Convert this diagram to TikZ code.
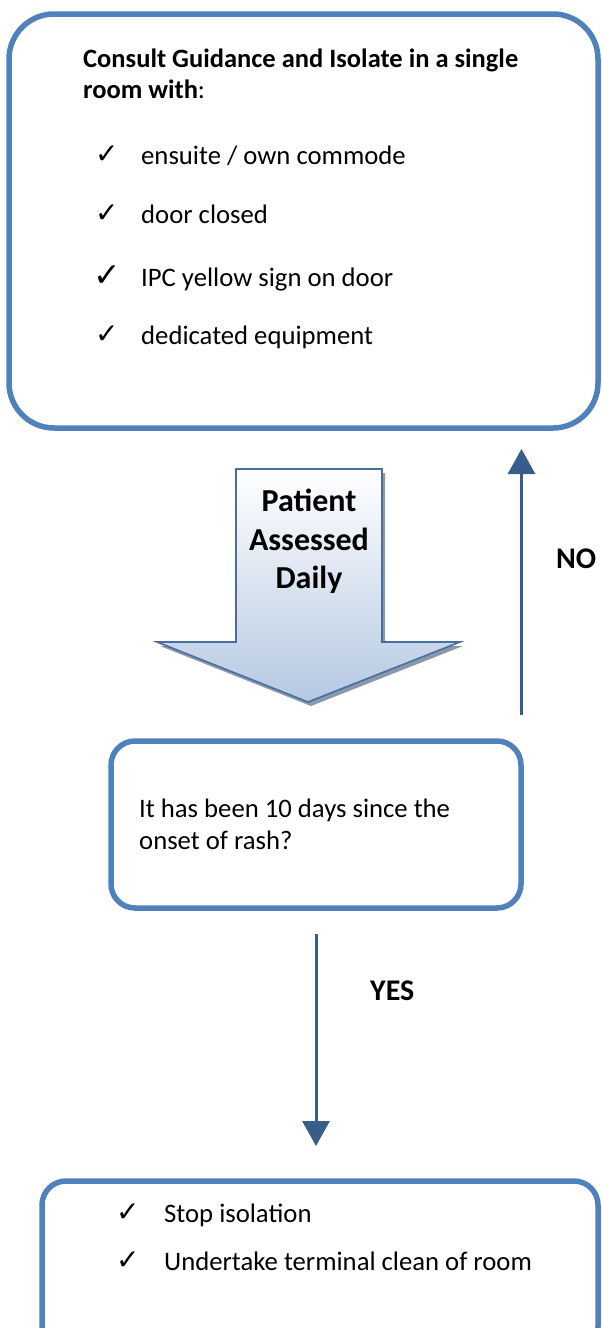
\documentclass[tikz,border=0pt]{standalone}
\usepackage{fontspec}
\setmainfont{Carlito}
\newfontfamily\dejavu{DejaVu Sans}
\usetikzlibrary{arrows.meta}
\definecolor{boxblue}{HTML}{4F81BD}
\definecolor{arrblue}{HTML}{385D8A}
\definecolor{padline}{HTML}{4A6D9C}
\definecolor{padfill}{HTML}{B5C9E3}
\definecolor{padshadow}{HTML}{8A98AE}
\tikzset{
  flowbox/.style={draw=boxblue, line width=5.5pt, rounded corners=#1, fill=white, inner sep=0pt},
  txt/.style={anchor=base west, inner sep=0pt, font=\fontsize{26.7}{31}\selectfont},
  btxt/.style={anchor=base west, inner sep=0pt, font=\fontsize{26.5}{31}\selectfont\bfseries},
  tick/.style={anchor=base west, inner sep=0pt, font=\dejavu\fontsize{28}{30}\selectfont},
  bigtick/.style={anchor=base west, inner sep=0pt, font=\dejavu\fontsize{33}{36}\selectfont},
  lbl/.style={anchor=base west, inner sep=0pt, font=\fontsize{30}{36}\selectfont\bfseries},
  arr/.style={draw=arrblue, line width=3pt, -{Triangle[length=25pt,width=27pt]}, arrblue},
}
\begin{document}
\begin{tikzpicture}[x=1pt,y=-1pt]
\useasboundingbox (0,0) rectangle (602,1328);
\clip (0,0) rectangle (602,1328);

% top box
\node[flowbox=45pt, minimum width=589pt, minimum height=414pt] (top) at (303.5,221) {};
\node[btxt] (h1) at (83,67) {Consult Guidance and Isolate in a single};
\node[btxt] (h2) at (83,98) {room with\textmd{:}};
\node[tick] (c1) at (95,163) {✓};
\node[txt] (t1) at (141,164) {ensuite / own commode};
\node[tick] (c2) at (95,222) {✓};
\node[txt] (t2) at (141,223) {door closed};
\node[bigtick] (c3) at (93,286) {✓};
\node[txt] (t3) at (141,286) {IPC yellow sign on door};
\node[tick] (c4) at (95,343) {✓};
\node[txt] (t4) at (141,344) {dedicated equipment};

% patient assessed arrow
\fill[padshadow] (239,473) -- (385,473) -- (385,646) -- (463,646) -- (311,706) -- (160,646) -- (239,646) -- cycle;
\shade[top color=white, bottom color=padfill, draw=padline, line width=1.6pt, line join=miter]
  (236,469) -- (382,469) -- (382,642) -- (460,642) -- (308,702) -- (157,642) -- (236,642) -- cycle;
\node[inner sep=0pt, anchor=base, font=\fontsize{32}{38}\selectfont\bfseries] (p1) at (309,511) {Patient};
\node[inner sep=0pt, anchor=base, font=\fontsize{32}{38}\selectfont\bfseries] (p2) at (309,550) {Assessed};
\node[inner sep=0pt, anchor=base, font=\fontsize{32}{38}\selectfont\bfseries] (p3) at (309,588) {Daily};

% middle box
\node[flowbox=24pt, minimum width=410pt, minimum height=167pt] (mid) at (316,824.5) {};
\node[txt] (m1) at (139,817) {It has been 10 days since the};
\node[txt] (m2) at (139,849) {onset of rash?};

% NO arrow
\coordinate (noS) at (521.5,715);
\coordinate (noE) at (521.5,449);
\draw[arr] (noS) -- (noE);
\node[lbl] (no) at (556,568) {NO};

% YES arrow
\coordinate (yesS) at (316,934);
\coordinate (yesE) at (316,1146);
\draw[arr] (yesS) -- (yesE);
\node[lbl] (yes) at (370,1000) {YES};

% bottom box
\node[flowbox=24pt, minimum width=556pt, minimum height=170pt] (bot) at (320,1266) {};
\node[tick] (b1c) at (116,1221) {✓};
\node[txt] (b1) at (164,1222) {Stop isolation};
\node[tick] (b2c) at (116,1269) {✓};
\node[txt] (b2) at (164,1270) {Undertake terminal clean of room};
\end{tikzpicture}
\end{document}
